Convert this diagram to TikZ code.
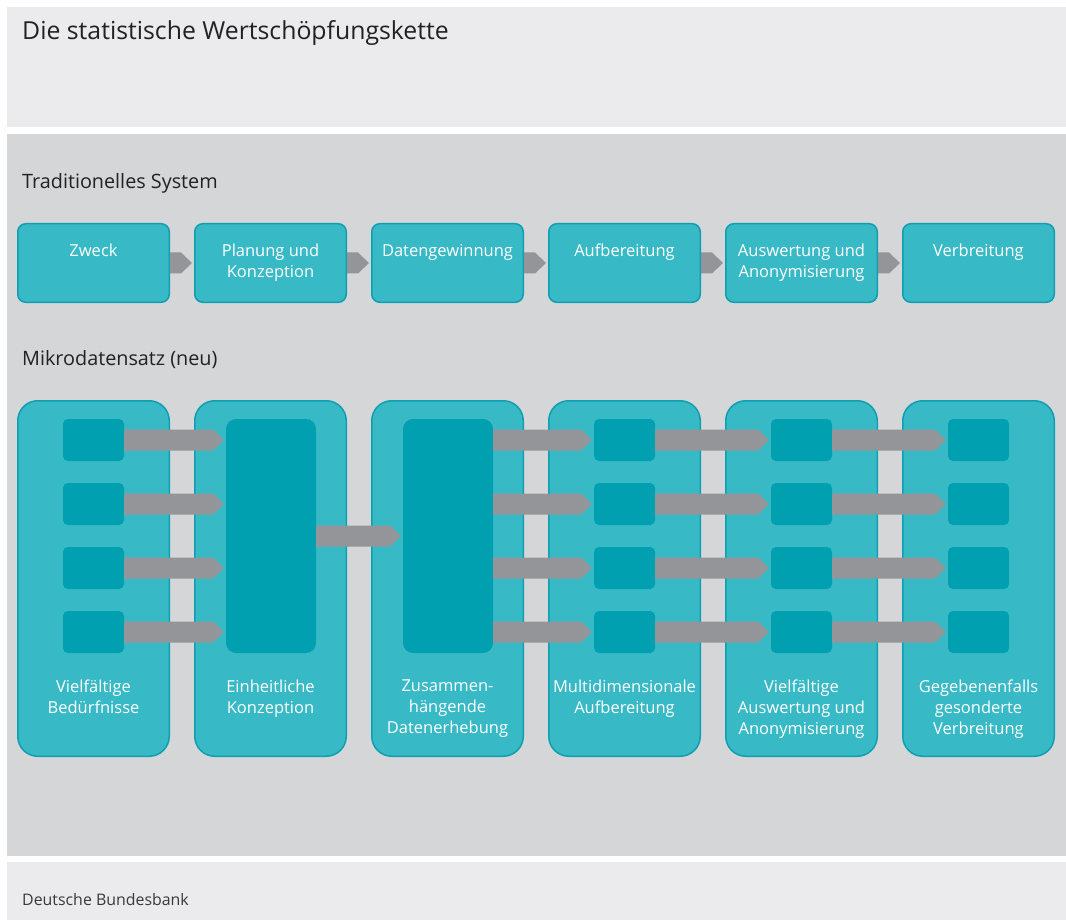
\documentclass[tikz,border=0pt]{standalone}
\usepackage{fontspec}
\setmainfont{Open Sans}
\usetikzlibrary{calc}

\definecolor{panellight}{HTML}{EBEBED}
\definecolor{paneldark}{HTML}{D5D6D8}
\definecolor{boxfill}{HTML}{38B9C6}
\definecolor{boxline}{HTML}{0E9FB0}
\definecolor{cellfill}{HTML}{00A0B1}
\definecolor{flowgray}{HTML}{939598}
\definecolor{inkdark}{HTML}{222222}
\definecolor{inkfoot}{HTML}{3A3A3A}

\begin{document}
\begin{tikzpicture}[x=1pt,y=-1pt,
  tradbox/.style={draw=boxline, line width=1.5pt, fill=boxfill,
    rounded corners=8pt, minimum width=151.5pt, minimum height=78.5pt, inner sep=0pt},
  microbox/.style={draw=boxline, line width=1.5pt, fill=boxfill,
    rounded corners=20pt, minimum width=151.5pt, minimum height=355.5pt, inner sep=0pt},
  cell/.style={fill=cellfill, rounded corners=5pt, minimum width=61pt,
    minimum height=42pt, inner sep=0pt, outer sep=0pt},
  core/.style={fill=cellfill, rounded corners=10pt, minimum width=90pt,
    minimum height=234pt, inner sep=0pt, outer sep=0pt},
  boxtext/.style={text=white, font=\fontsize{16.5}{21}\selectfont, align=center,
    inner sep=0pt, anchor=north, execute at begin node=\strut},
  heading/.style={text=inkdark, font=\fontsize{19.8}{24}\selectfont, inner sep=0pt,
    anchor=base west},
  flow/.style={to path={
    let \p1=(\tikztostart), \p2=(\tikztotarget) in
    (\x1,\y1+10.5) -- (\x2-13,\y1+10.5) -- (\x2-2,\y1)
    -- (\x2-13,\y1-10.5) -- (\x1,\y1-10.5) -- cycle}}
]
\useasboundingbox (0,0) rectangle (1066,920);
\fill[white] (0,0) rectangle (1066,920);

% panels
\fill[panellight] (7,7) rectangle (1066,127);
\fill[paneldark] (7,134) rectangle (1066,856);
\fill[panellight] (7,862) rectangle (1066,920);

% titles
\node[heading, font=\fontsize{24.8}{29}\selectfont] (title) at (22,40)
  {Die statistische Wertschöpfungskette};
\node[heading] (hTrad) at (22,189) {Traditionelles System};
\node[heading] (hMicro) at (22,365) {Mikrodatensatz (neu)};
\node[heading, text=inkfoot, font=\fontsize{15.9}{19}\selectfont] (source) at (22,905)
  {Deutsche Bundesbank};

% traditional chain
\foreach \i/\ty/\txt in {0/241.3/Zweck, 1/243.3/Planung und\\Konzeption,
                         2/241.3/Datengewinnung, 3/241.3/Aufbereitung,
                         4/243.3/Auswertung und\\Anonymisierung, 5/241.3/Verbreitung} {
  \node[tradbox] (t\i) at ({93.5+177*\i},263) {};
  \node[boxtext] (tl\i) at ({93.5+177*\i},\ty) {\txt};
}
\foreach \i [evaluate=\i as \j using int(\i+1)] in {0,...,4}
  \fill[flowgray] (t\i.east) to[flow] (t\j.west);

% micro data chain: outer boxes
\foreach \i/\txt in {0/Vielfältige\\Bedürfnisse, 1/Einheitliche\\Konzeption,
                     2/Zusammen-\\hängende\\Datenerhebung, 3/Multidimensionale\\Aufbereitung,
                     4/Vielfältige\\Auswertung und\\Anonymisierung,
                     5/Gegebenenfalls\\gesonderte\\Verbreitung} {
  \node[microbox] (m\i) at ({93.5+177*\i},578.5) {};
  \node[boxtext] (ml\i) at ({93.5+177*\i},679.3) {\txt};
}

% inner cells and central blocks
\foreach \i in {0,3,4,5}
  \foreach \k/\y in {1/440, 2/504, 3/568, 4/632}
    \node[cell] (c\i\k) at ({93.5+177*\i},\y) {};
\node[core] (core1) at (271,536) {};
\node[core] (core2) at (448,536) {};

% flows
\foreach \k in {1,...,4} {
  \fill[flowgray] (c0\k.east) to[flow] (core1.west);
  \fill[flowgray] (core2.east |- c3\k.west) to[flow] (c3\k.west);
  \fill[flowgray] (c3\k.east) to[flow] (c4\k.west);
  \fill[flowgray] (c4\k.east) to[flow] (c5\k.west);
}
\fill[flowgray] (core1.east) to[flow] (core2.west);

\end{tikzpicture}
\end{document}
